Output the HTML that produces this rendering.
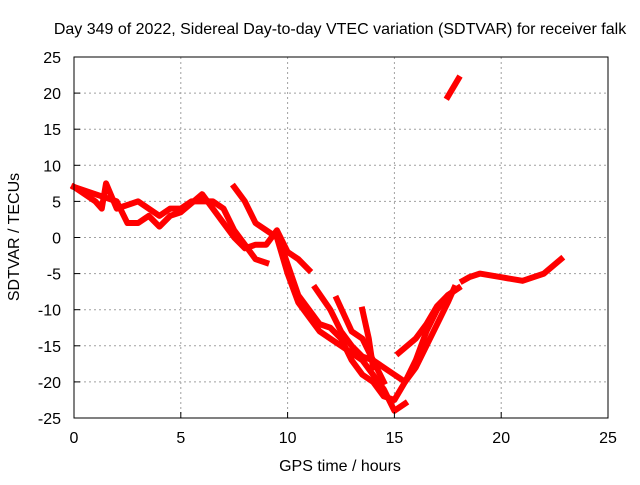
<!DOCTYPE html>
<html><head><meta charset="utf-8"><style>
body{margin:0;background:#fff}
svg text{font-family:"Liberation Sans",sans-serif;font-size:16px;fill:#000}
</style></head><body>
<svg id="c" width="640" height="480" xmlns="http://www.w3.org/2000/svg">
<rect width="640" height="480" fill="#fff"/>
<text x="340" y="34" text-anchor="middle">Day 349 of 2022, Sidereal Day-to-day VTEC variation (SDTVAR) for receiver falk</text>
<text x="340" y="471" text-anchor="middle">GPS time / hours</text>
<text transform="translate(19,237) rotate(-90)" text-anchor="middle">SDTVAR / TECUs</text>
<g id="grid"></g><g id="series"></g><g id="axes"></g>
</svg>
<script>
const xTicks=[0,5,10,15,20,25];
const yTicks=[25,20,15,10,5,0,-5,-10,-15,-20,-25];
const track1=[[0,7],[0.5,6],[1,5],[1.3,4],[1.5,7.5],[2,4],[2.5,4.5],[3,5],[3.5,4],[4,3],[4.5,4],[5,4],[5.5,5],[6,5],[6.5,5],[7,4],[7.5,1],[8,-1],[8.5,-3],[9,-3.5]];
const track2=[[0,7],[1,6],[2,5],[2.5,2],[3,2],[3.5,3],[4,1.5],[4.5,3],[5,3.5],[6,6],[6.5,4],[7,2],[7.5,0],[8,-1.5],[8.5,-1],[9,-1],[9.5,1],[10,-2],[10.5,-3],[11,-4.5]];
const track3=[[7.5,7],[8,5],[8.5,2],[9,1],[9.5,0],[10,-5],[10.5,-9],[11,-11],[11.5,-13],[12,-14],[12.5,-15],[13,-16],[13.5,-17],[14,-19],[14.5,-21],[15,-24],[15.5,-23]];
const track4=[[9.8,-2],[10.5,-8],[11,-10],[11.5,-12],[12,-12.5],[12.5,-14],[13,-17],[13.5,-19],[14,-20],[14.5,-22],[15,-22.5],[15.5,-20],[16,-17],[16.5,-13],[17,-10],[17.5,-8],[18,-7]];
const track5=[[11.3,-7],[12,-10],[12.5,-13],[13,-15],[13.5,-16.5],[14,-17],[14.5,-18],[15,-19],[15.5,-20],[16,-18],[16.5,-15],[17,-12],[17.5,-9],[17.8,-7]];
const track6=[[12.3,-8.5],[13,-13],[13.5,-14],[14,-17],[14.5,-20]];
const track7=[[13.5,-10],[13.8,-14],[14,-18]];
const track8=[[15.2,-16],[16,-14],[16.5,-12],[17,-9.5],[17.5,-8],[18,-7]];
const track9=[[18.2,-6],[18.5,-5.5],[19,-5],[20,-5.5],[21,-6],[22,-5],[22.8,-3]];
const track10=[[17.5,19.5],[18,22]];
const tracks=[track1,track2,track3,track4,track5,track6,track7,track8,track9,track10];
const X0=74,X1=608,Y0=418,Y1=57;
const sx=h=>X0+(h-0)/(25-0)*(X1-X0);
const sy=v=>Y0-(v+25)/50*(Y0-Y1);
const NS="http://www.w3.org/2000/svg";
const grid=document.getElementById('grid'),axes=document.getElementById('axes'),ser=document.getElementById('series');
function mk(tag,attrs,parent){const e=document.createElementNS(NS,tag);for(const k in attrs)e.setAttribute(k,attrs[k]);parent.appendChild(e);return e;}
xTicks.forEach(t=>{
 if(t>0&&t<25){const g=mk('line',{x1:sx(t),x2:sx(t),y1:Y1,y2:Y0,stroke:'#a0a0a0','stroke-dasharray':'2,3'},grid);
 
 }
 const tk=mk('line',{x1:sx(t),x2:sx(t),y1:Y0,y2:Y0-6,stroke:'#000'},axes);
 
 
 const tx=mk('text',{x:sx(t),y:Y0+25,'text-anchor':'middle'},axes);tx.textContent=t;
 
 
});
yTicks.forEach(t=>{
 if(t>-25&&t<25){const g=mk('line',{x1:X0,x2:X1,y1:sy(t),y2:sy(t),stroke:'#a0a0a0','stroke-dasharray':'2,3'},grid);
 
 }
 const tk=mk('line',{x1:X0,x2:X0+6,y1:sy(t),y2:sy(t),stroke:'#000'},axes);
 
 
 const tx=mk('text',{x:X0-13,y:sy(t)+6,'text-anchor':'end'},axes);tx.textContent=t;
 
 
});
const fr=mk('rect',{x:X0,y:Y1,width:X1-X0,height:Y0-Y1,fill:'none',stroke:'#000'},axes);


tracks.forEach((tr,i)=>{
 const p=mk('polyline',{points:tr.map(d=>sx(d[0])+','+sy(d[1])).join(' '),fill:'none',stroke:'#ff0000','stroke-width':6,'stroke-linejoin':'round','stroke-linecap':'square'},ser);
 
 
});
</script>
</body></html>
